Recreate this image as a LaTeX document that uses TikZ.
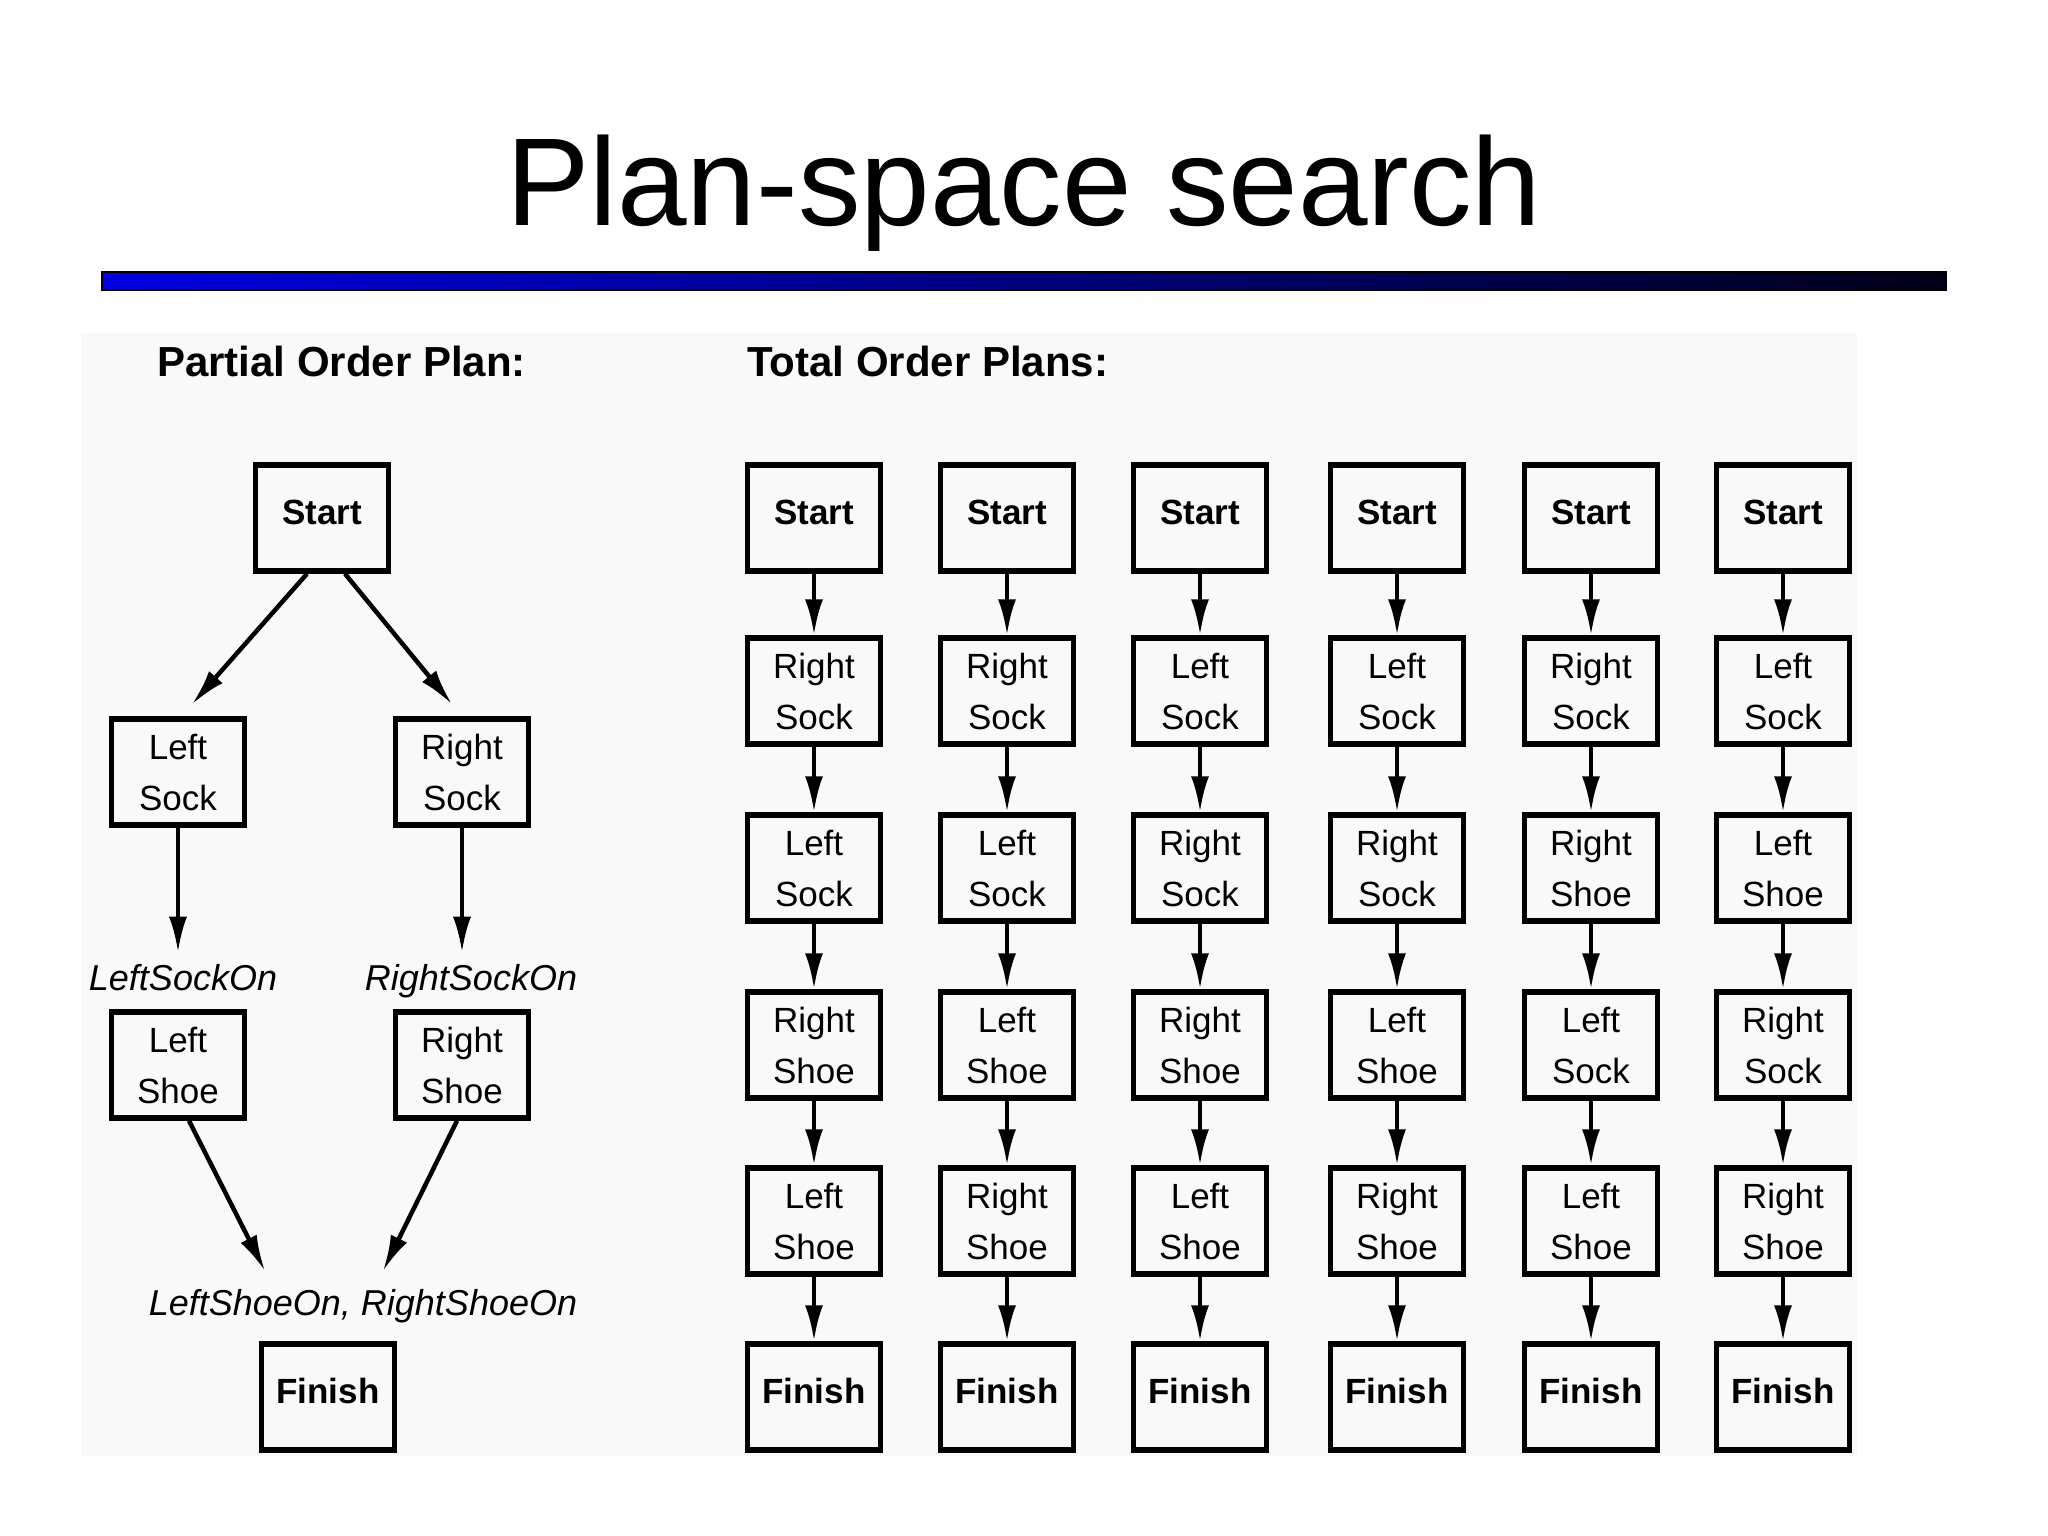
\documentclass[tikz,border=0pt]{standalone}
\usepackage{fontspec}
\setmainfont{Liberation Sans}
\usetikzlibrary{arrows.meta,calc}
\definecolor{barleft}{RGB}{0,0,225}
\definecolor{barright}{RGB}{0,0,25}
\definecolor{panelgray}{RGB}{249,249,249}
\newcommand\totalplan[6]{%
  \node[bbox] (t#1r1) at (#2,518) {\raisebox{12pt}{Start}};
  \node[box]  (t#1r2) at (#2,691) {#3};
  \node[box]  (t#1r3) at (#2,868) {#4};
  \node[box]  (t#1r4) at (#2,1045) {#5};
  \node[box]  (t#1r5) at (#2,1221) {#6};
  \node[bbox] (t#1r6) at (#2,1397) {\raisebox{12pt}{Finish}};
  \foreach \i/\j in {1/2,2/3,3/4,4/5,5/6} \draw[arr] (t#1r\i) -- (t#1r\j);
}
\begin{document}
\begin{tikzpicture}[x=1pt,y=-1pt,
  box/.style={draw, line width=5.5pt, minimum width=133pt, minimum height=106pt,
    inner sep=0pt, align=center, font=\fontsize{35}{51}\selectfont},
  bbox/.style={box, font=\bfseries\fontsize{35}{51}\selectfont},
  arr/.style={line width=4.5pt, -{Latex[length=36pt,width=18pt]}},
  cond/.style={inner sep=0pt, font=\itshape\fontsize{36}{44}\selectfont}]
\useasboundingbox (0,0) rectangle (2048,1536);
\fill[white] (0,0) rectangle (2048,1536);
\fill[panelgray] (81,333) rectangle (1857,1456);
% title and bar
\node[anchor=base, inner sep=0pt, font=\fontsize{125}{150}\selectfont] (title) at (1024,225) {Plan-space search};
\shade[left color=barleft, right color=barright] (102,272) rectangle (1946,290);
\draw[line width=1.5pt] (102,272) rectangle (1946,290);
% headings
\node[anchor=base west, inner sep=0pt, font=\bfseries\fontsize{42}{50}\selectfont] (pophead) at (157,376) {Partial Order Plan:};
\node[anchor=base west, inner sep=0pt, font=\bfseries\fontsize{42}{50}\selectfont] (tophead) at (747,376) {Total Order Plans:};
% partial order plan
\node[bbox] (st) at (322,518) {\raisebox{12pt}{Start}};
\node[box] (ls) at (178,772) {Left\\Sock};
\node[box] (rs) at (462,772) {Right\\Sock};
\node[cond, anchor=base] (lson) at (183,990) {LeftSockOn};
\node[cond, anchor=base] (rson) at (471,990) {RightSockOn};
\node[box] (lsh) at (178,1065) {Left\\Shoe};
\node[box] (rsh) at (462,1065) {Right\\Shoe};
\node[cond, anchor=base] (shon) at (363,1315) {LeftShoeOn, RightShoeOn};
\node[bbox] (fin) at (328,1397) {\raisebox{12pt}{Finish}};
\coordinate (j1) at (265,1271);
\coordinate (j2) at (383,1271);
\draw[arr] ([xshift=-15pt]st.south) -- ([xshift=14pt,yshift=12pt]ls.north);
\draw[arr] ([xshift=23pt]st.south) -- ([xshift=-10pt,yshift=12pt]rs.north);
\draw[arr] (ls.south) -- ($(ls.south |- lson.north)+(0,-11)$);
\draw[arr] (rs.south) -- ($(rs.south |- rson.north)+(0,-11)$);
\draw[arr] ([xshift=11pt]lsh.south) -- (j1);
\draw[arr] ([xshift=-5pt]rsh.south) -- (j2);
% total order plans
\totalplan{1}{814}{Right\\Sock}{Left\\Sock}{Right\\Shoe}{Left\\Shoe}
\totalplan{2}{1007}{Right\\Sock}{Left\\Sock}{Left\\Shoe}{Right\\Shoe}
\totalplan{3}{1200}{Left\\Sock}{Right\\Sock}{Right\\Shoe}{Left\\Shoe}
\totalplan{4}{1397}{Left\\Sock}{Right\\Sock}{Left\\Shoe}{Right\\Shoe}
\totalplan{5}{1591}{Right\\Sock}{Right\\Shoe}{Left\\Sock}{Left\\Shoe}
\totalplan{6}{1783}{Left\\Sock}{Left\\Shoe}{Right\\Sock}{Right\\Shoe}
\end{tikzpicture}
\end{document}
